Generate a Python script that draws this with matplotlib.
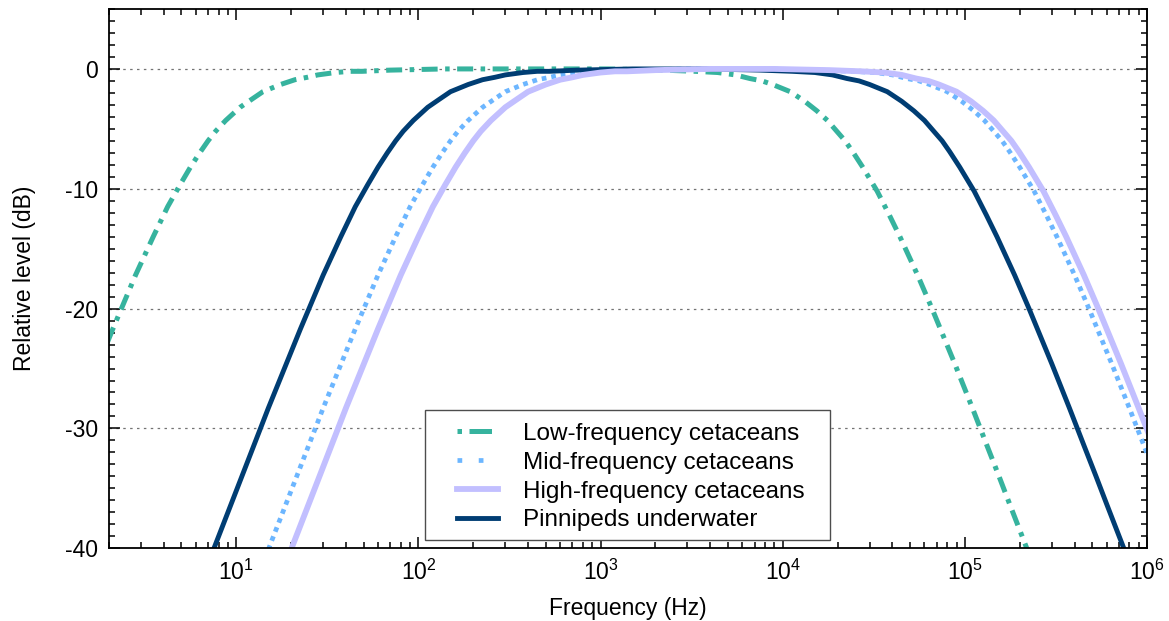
import matplotlib
matplotlib.use("Agg")
import matplotlib.pyplot as plt
from matplotlib.lines import Line2D
from matplotlib.patches import Rectangle
from matplotlib.ticker import MultipleLocator

# Values (frequency in Hz, level in dB)
lf_freq = [1.4, 2.1, 2.8, 3.5, 4.2, 4.9, 5.6, 6.3, 7, 7.7, 8.75, 10.5, 12.25, 14, 17.5, 21, 24.5, 28, 35, 42, 49,
           70, 140, 1100, 2200, 3300, 4400, 5500, 6600, 7700, 8800, 11000, 13200, 15400, 17600, 19800,
           22000, 24200, 27500, 33000, 38500, 44000, 55000, 66000, 88000, 110000, 132000, 154000, 176000,
           220000, 264000]
lf_level = [-28.3, -21.7, -17.2, -14.0, -11.5, -9.7, -8.2, -7.0, -6.0, -5.2, -4.3, -3.2, -2.5, -1.9, -1.3, -0.9, -0.7, -0.5, -0.3, -0.2, -0.2,
            -0.1, 0.0, 0.0, -0.1, -0.2, -0.3, -0.5, -0.8, -1.0, -1.3, -1.9, -2.7, -3.5, -4.3, -5.2,
            -6.0, -6.9, -8.2, -10.2, -12.2, -14.0, -17.2, -20.0, -24.6, -28.3, -31.4, -34.0, -36.3,
            -40.1, -43.2]

mf_freq = [10.5, 15, 22.5, 30, 45, 60, 75, 90, 105, 120, 135, 150, 165, 187.5, 225, 262.5, 300, 375, 450, 525, 600,
           750, 900, 1050, 1500, 3000, 8000, 16000, 24000, 32000, 40000, 48000, 56000, 64000, 80000, 96000,
           112000, 128000, 144000, 160000, 176000, 200000, 240000, 280000, 320000, 400000, 480000, 640000,
           800000, 960000, 1120000, 1280000]
mf_level = [-46.2, -40.1, -33.2, -28.3, -21.7, -17.2, -14.0, -11.5, -9.7, -8.2, -7.0, -6.0, -5.2, -4.3, -3.2, -2.5, -1.9, -1.3, -0.9, -0.7, -0.5,
            -0.3, -0.2, -0.2, -0.1, 0.0, 0.0, -0.1, -0.2, -0.3, -0.5, -0.8, -1.0, -1.3, -1.9, -2.7,
            -3.5, -4.3, -5.2, -6.0, -6.9, -8.2, -10.2, -12.2, -14.0, -17.2, -20.0, -24.6,
            -28.3, -31.4, -34.0, -36.3]

hf_freq = [14, 20, 30, 40, 60, 80, 100, 120, 140, 160, 180, 200, 220, 250, 300, 350, 400, 500, 600, 700, 800,
           1000, 1200, 1400, 2000, 4000, 9000, 18000, 27000, 36000, 45000, 54000, 63000, 72000, 90000, 108000,
           126000, 144000, 162000, 180000, 198000, 225000, 270000, 315000, 360000, 450000, 540000, 720000,
           900000, 1080000, 1260000]
hf_level = [-46.2, -40.1, -33.2, -28.3, -21.7, -17.2, -14.0, -11.5, -9.7, -8.2, -7.0, -6.0, -5.2, -4.3, -3.2, -2.5, -1.9, -1.3, -0.9, -0.7, -0.5,
            -0.3, -0.2, -0.2, -0.1, 0.0, 0.0, -0.1, -0.2, -0.3, -0.5, -0.8, -1.0, -1.3, -1.9, -2.7,
            -3.5, -4.3, -5.2, -6.0, -6.9, -8.2, -10.2, -12.2, -14.0, -17.2, -20.0, -24.6,
            -28.3, -31.4, -34.0]

pw_freq = [5.25, 7.5, 11.25, 15, 22.5, 30, 37.5, 45, 52.5, 60, 67.5, 75, 82.5, 93.75, 112.5, 131.25, 150, 187.5, 225,
           262.5, 300, 375, 450, 525, 750, 1500, 3750, 7500, 11250, 15000, 18750, 22500, 26250, 30000, 37500,
           45000, 52500, 60000, 67500, 75000, 82500, 93750, 112500, 131250, 150000, 187500, 225000, 300000,
           375000, 450000, 525000, 600000, 750000, 900000]
pw_level = [-46.2, -40.1, -33.2, -28.3, -21.7, -17.2, -14.0, -11.5, -9.7, -8.2, -7.0, -6.0, -5.2, -4.3, -3.2, -2.5, -1.9, -1.3, -0.9,
            -0.7, -0.5, -0.3, -0.2, -0.2, -0.1, 0.0, 0.0, -0.1, -0.2, -0.3, -0.5, -0.8, -1.0, -1.3, -1.9,
            -2.7, -3.5, -4.3, -5.2, -6.0, -6.9, -8.2, -10.2, -12.2, -14.0, -17.2, -20.0, -24.6,
            -28.3, -31.4, -34.0, -36.3, -40.1, -43.2]

labels = ['Low-frequency cetaceans', 'Mid-frequency cetaceans',
          'High-frequency cetaceans', 'Pinnipeds underwater']
y_ticks = [0, -10, -20, -30, -40]

plt.rcParams['font.family'] = ['Liberation Sans', 'DejaVu Sans']
plt.rcParams['axes.unicode_minus'] = False
plt.rcParams['font.size'] = 16.5

fig = plt.figure(figsize=(11.69, 6.21), dpi=100)
ax = fig.add_axes([0.0932, 0.1171, 0.8880, 0.8684])

ax.plot(lf_freq, lf_level, color='#36b39e', lw=3.6, dashes=(3.2, 1.5, 0.9, 1.5))
ax.plot(mf_freq, mf_level, color='#6cb6ff', lw=3.4, dashes=(1, 1.05))
ax.plot(pw_freq, pw_level, color='#003d73', lw=3.5, zorder=2.1)
ax.plot(hf_freq, hf_level, color='#c2bfff', lw=4.2, zorder=2.2)

ax.set_xscale('log')
ax.set_xlim(2, 1e6)
ax.set_ylim(-40, 5)
ax.set_yticks(y_ticks)
ax.yaxis.set_minor_locator(MultipleLocator(1))

for y in y_ticks[:-1]:
    ax.axhline(y, color='0.45', lw=0.9, dashes=(2, 3.5), zorder=1)

ax.tick_params(which='both', direction='in', top=True, right=True, width=1.1)
ax.tick_params(which='major', length=8, pad=8)
ax.tick_params(which='minor', length=4.5)
for s in ax.spines.values():
    s.set_linewidth(1.3)

ax.set_xlabel('Frequency (Hz)', labelpad=9)
ax.set_ylabel('Relative level (dB)', labelpad=21)

# legend: box drawn separately (wider side padding), proxy handles like the original key
ax.add_patch(Rectangle((0.3044, 0.0154), 0.390, 0.241, transform=ax.transAxes,
                       facecolor='white', edgecolor='0.3', lw=1.0, zorder=4.9))
handles = [
    Line2D([], [], color='#36b39e', lw=3.6, dashes=(0.9, 1.5, 4.5, 1.5)),
    Line2D([], [], color='#6cb6ff', lw=3.4, dashes=(1, 3.5)),
    Line2D([], [], color='#c2bfff', lw=4.2),
    Line2D([], [], color='#003d73', lw=3.5),
]
leg = ax.legend(handles, labels,
                loc='upper left', bbox_to_anchor=(0.3353, 0.2325), borderaxespad=0,
                frameon=False, fontsize=17.5, borderpad=0,
                handlelength=1.7, handletextpad=1.03, labelspacing=0.28)
leg.set_zorder(5)

fig.savefig('out.png', dpi=100)
